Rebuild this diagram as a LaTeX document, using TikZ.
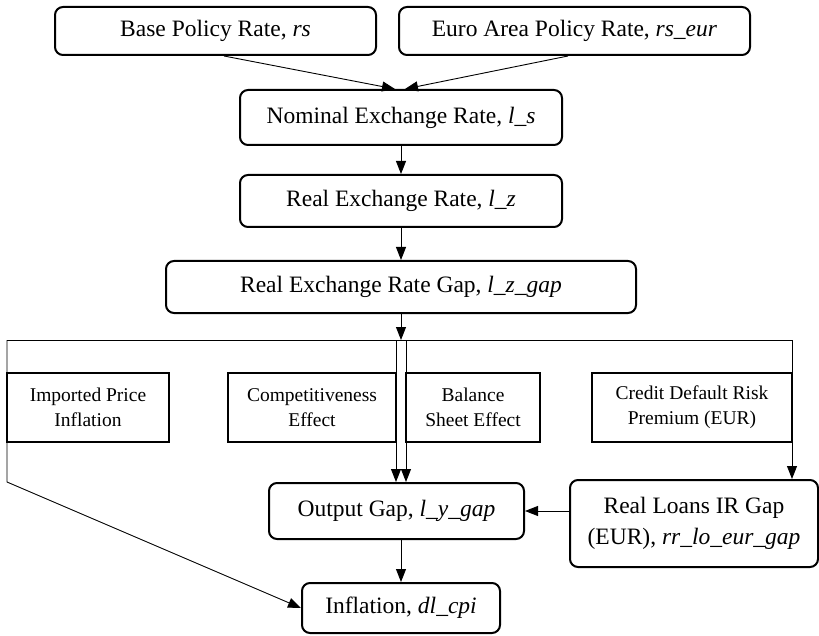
\documentclass[tikz,border=0pt]{standalone}
\usepackage{fontspec}
\setmainfont{Liberation Serif}
\usetikzlibrary{arrows.meta,calc}
\begin{document}
\begin{tikzpicture}[x=1pt,y=-1pt,
  mainbox/.style={draw, line width=2pt, rounded corners=8pt, align=center, inner sep=0pt,
    font=\fontsize{23.5}{31}\selectfont},
  effbox/.style={draw, line width=2pt, align=center, inner sep=0pt, fill=white,
    font=\fontsize{19.5}{25}\selectfont},
  conn/.style={line width=0.9pt},
  arr/.style={conn, -{Triangle[length=13pt,width=10pt]}}]
\useasboundingbox (0,0) rectangle (819,636);

\coordinate (hub) at (401,340);
\coordinate (hl) at (7,340);
\coordinate (hr) at (792,340);
\coordinate (bend) at (7,482);
\coordinate (h1) at (396,340);
\coordinate (h2) at (406,340);

\node[mainbox, minimum width=321pt, minimum height=48pt] (base) at (215.5,31) {Base Policy Rate, \textit{rs}};
\node[mainbox, minimum width=351pt, minimum height=48pt] (euro) at (574.5,31) {Euro Area Policy Rate, \textit{rs\_eur}};
\node[mainbox, minimum width=322pt, minimum height=55pt] (nom) at (401,117.5) {Nominal Exchange Rate, \textit{l\_s}};
\node[mainbox, minimum width=322pt, minimum height=52pt] (real) at (401,201) {Real Exchange Rate, \textit{l\_z}};
\node[mainbox, minimum width=470pt, minimum height=52pt] (gap) at (401,287) {Real Exchange Rate Gap, \textit{l\_z\_gap}};
\node[mainbox, minimum width=255pt, minimum height=56pt] (out) at (396.5,511) {Output Gap, \textit{l\_y\_gap}};
\node[mainbox, minimum width=248pt, minimum height=87pt] (loans) at (694,523.5) {Real Loans IR Gap\\(EUR), \textit{rr\_lo\_eur\_gap}};
\node[mainbox, minimum width=198pt, minimum height=50pt] (infl) at (401,608) {Inflation, \textit{dl\_cpi}};

\draw[arr] ([xshift=8.5pt]base.south) -- ([xshift=-6pt]nom.north);
\draw[arr] ([xshift=-6.5pt]euro.south) -- ([xshift=4pt]nom.north);
\draw[arr] (nom) -- (real);
\draw[arr] (real) -- (gap);
\draw[arr] (gap.south) -- (hub);
\draw[conn] (hl) -- (hr);
\draw[arr] (hl) -- (bend) -- (infl.west);
\draw[arr] (h1) -- (h1 |- out.north);
\draw[arr] (h2) -- (h2 |- out.north);
\draw[arr] (hr) -- (hr |- loans.north);
\draw[arr] (loans.west |- out.east) -- (out.east);
\draw[arr] (infl.north |- out.south) -- (infl.north);

\node[effbox, minimum width=162pt, minimum height=69pt] (imp) at (88,407.5) {Imported Price\\Inflation};
\node[effbox, minimum width=168pt, minimum height=69pt] (comp) at (312,407.5) {Competitiveness\\Effect};
\node[effbox, minimum width=134pt, minimum height=69pt] (bal) at (473,407.5) {Balance\\Sheet Effect};
\node[effbox, minimum width=200pt, minimum height=69pt] (cred) at (692,407.5) {Credit Default Risk\\Premium (EUR)};
\end{tikzpicture}
\end{document}
